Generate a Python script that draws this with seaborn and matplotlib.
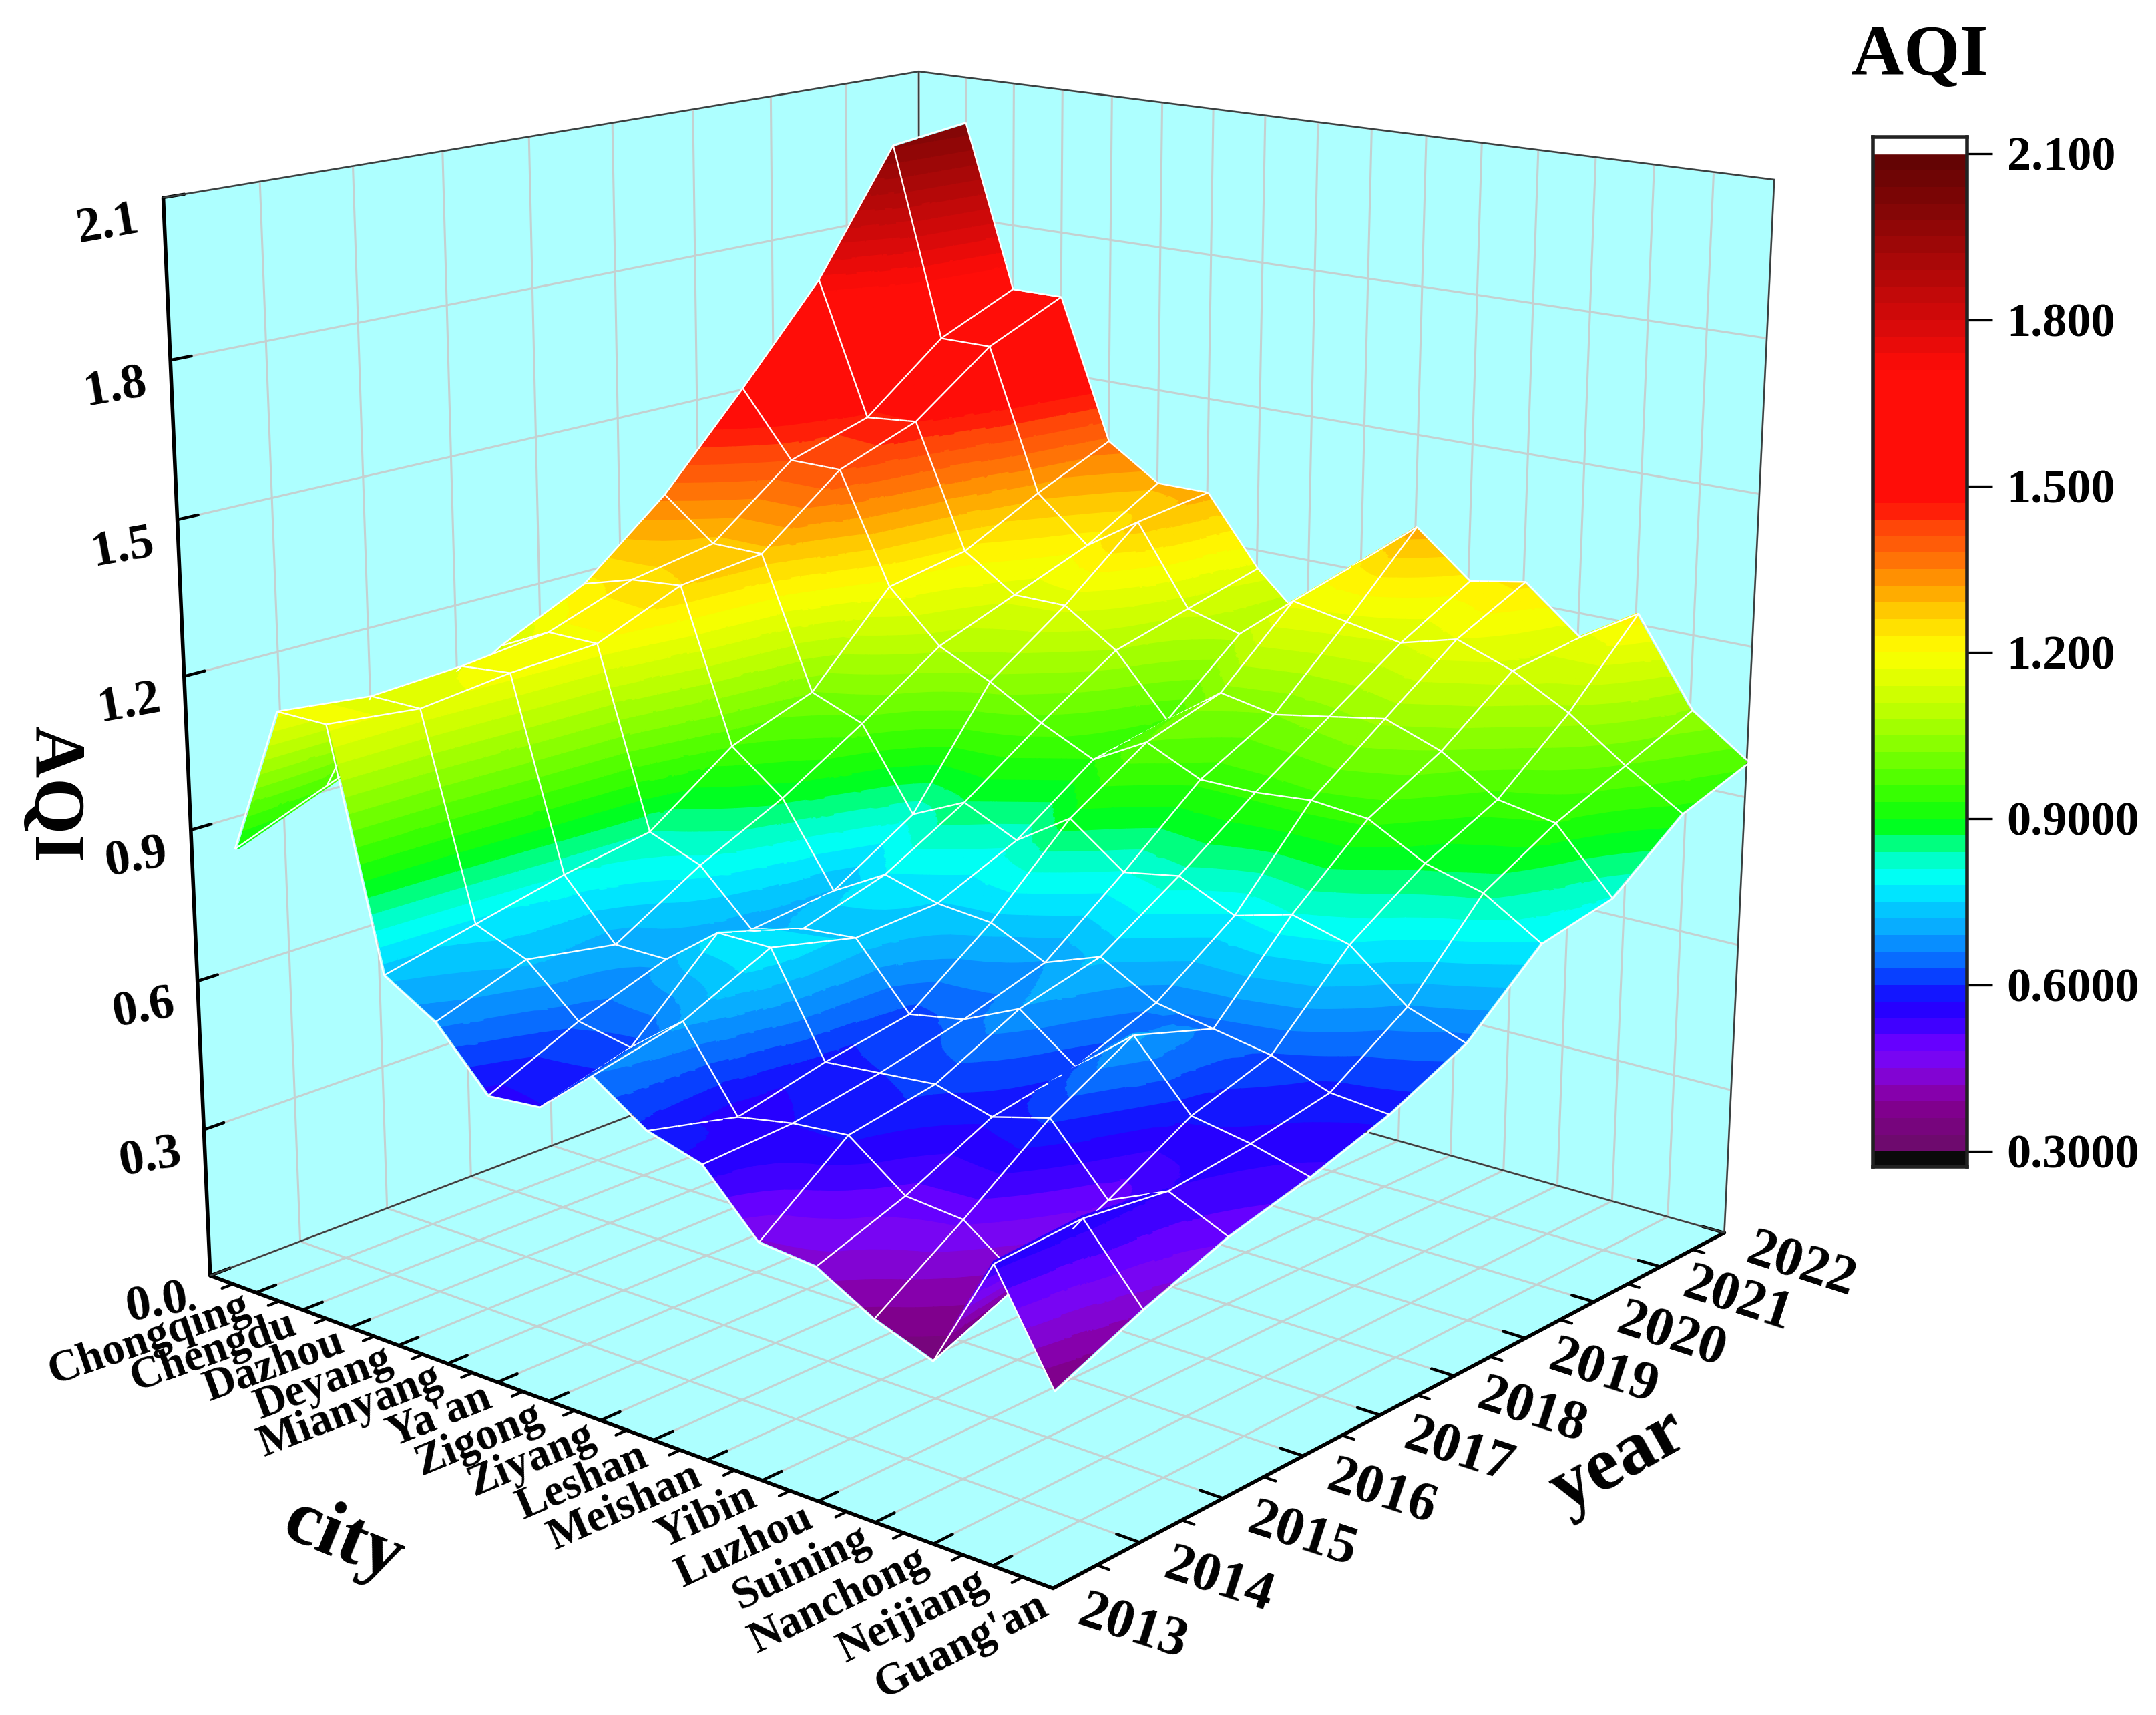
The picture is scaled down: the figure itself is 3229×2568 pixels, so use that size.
import numpy as np
import matplotlib
matplotlib.use('Agg')
import matplotlib.pyplot as plt
import seaborn as sns
from matplotlib.colors import LinearSegmentedColormap, Normalize
from mpl_toolkits.mplot3d.art3d import Poly3DCollection

sns.set_theme(style='white')
plt.rcParams['font.family'] = ['Liberation Serif', 'DejaVu Serif']
plt.rcParams.update({'text.color': 'black', 'axes.labelcolor': 'black', 'xtick.color': 'black', 'ytick.color': 'black'})

cities = ["Chongqing", "Chengdu", "Dazhou", "Deyang", "Mianyang", "Ya'an", "Zigong", "Ziyang",
          "Leshan", "Meishan", "Yibin", "Luzhou", "Suining", "Nanchong", "Neijiang", "Guang'an"]
years = list(range(2013, 2023))

aqi_2013 = [0.89, 1.18, 1.18, 0.73, 0.67, 0.56, 0.57, 0.66, 0.59, 0.56, 0.45, 0.44, 0.38, 0.34, 0.55, 0.36]
aqi_2014 = [0.96, 1.16, 1.16, 0.77, 0.73, 0.64, 0.62, 0.70, 0.55, 0.57, 0.58, 0.50, 0.49, 0.41, 0.56, 0.43]
aqi_2015 = [1.03, 1.17, 1.18, 0.81, 0.70, 0.70, 0.78, 0.78, 0.59, 0.60, 0.61, 0.58, 0.61, 0.49, 0.54, 0.49]
aqi_2016 = [1.14, 1.19, 1.19, 0.84, 0.80, 0.70, 0.73, 0.74, 0.62, 0.64, 0.69, 0.61, 0.70, 0.58, 0.56, 0.53]
aqi_2017 = [1.22, 1.25, 1.26, 0.96, 0.88, 0.72, 0.78, 0.75, 0.74, 0.69, 0.73, 0.67, 0.65, 0.63, 0.59, 0.58]
aqi_2018 = [1.36, 1.28, 1.28, 1.02, 0.98, 0.82, 0.87, 0.82, 0.89, 0.81, 0.83, 0.78, 0.81, 0.78, 0.69, 0.65]
aqi_2019 = [1.54, 1.41, 1.41, 1.19, 1.09, 1.04, 0.98, 0.93, 0.99, 0.94, 0.94, 0.95, 0.94, 0.88, 0.85, 0.78]
aqi_2020 = [1.73, 1.46, 1.47, 1.22, 1.15, 1.15, 1.08, 0.96, 1.04, 1.02, 1.04, 1.06, 1.02, 0.95, 0.93, 0.81]
aqi_2021 = [1.98, 1.59, 1.59, 1.30, 1.21, 1.28, 1.12, 1.09, 1.18, 1.16, 1.14, 1.17, 1.13, 1.07, 0.99, 0.92]
aqi_2022 = [2.00, 1.66, 1.66, 1.37, 1.30, 1.30, 1.16, 1.06, 1.22, 1.31, 1.22, 1.24, 1.15, 1.22, 1.05, 0.97]
Z = np.array([aqi_2013, aqi_2014, aqi_2015, aqi_2016, aqi_2017, aqi_2018, aqi_2019, aqi_2020, aqi_2021, aqi_2022])

anchors = [(0.30, '#6e0a6e'), (0.36, '#80008c'), (0.40, '#8800b4'), (0.44, '#7d08ec'), (0.475, '#7000ff'),
           (0.52, '#3800ff'), (0.555, '#2000ff'), (0.59, '#0828ff'), (0.625, '#0860ff'), (0.66, '#0888ff'),
           (0.70, '#08b0ff'), (0.74, '#00d0ff'), (0.78, '#00ffff'), (0.82, '#00ffc8'), (0.855, '#00ff70'),
           (0.885, '#00ff10'), (0.95, '#40ff00'), (1.03, '#88ff00'), (1.10, '#c0ff00'), (1.20, '#ffff00'),
           (1.26, '#ffd800'), (1.32, '#ffa000'), (1.38, '#ff6808'), (1.44, '#ff4008'), (1.47, '#ff0d08'),
           (1.72, '#ff0d08'), (1.80, '#d80a0a'), (1.90, '#b00808'), (2.00, '#880606'), (2.10, '#640404')]

FW, FH = 3230, 2568
XMIN, XMAX, YMIN, YMAX, ZMIN, ZMAX = 0, 16, 2013, 2022, 0, 2.1
ELEV, AZIM, ROLL, FOCAL = 15.9861, -49.8311, -0.1464, 0.4881
ASPECT = (1, 0.9946, 0.9970)

fig = plt.figure(figsize=(FW / 100, FH / 100), dpi=100)
ax = fig.add_subplot(projection='3d')
ax.set_xlim(XMIN, XMAX); ax.set_ylim(YMIN, YMAX); ax.set_zlim(ZMIN, ZMAX)
ax.view_init(elev=ELEV, azim=AZIM, roll=ROLL)
ax.set_proj_type('persp', focal_length=FOCAL)
ax.set_box_aspect(ASPECT, zoom=1)
ax.set_position([0.0101, 0.0123, 0.8632, 1.0857])

VMIN, VMAX = 0.3, 2.1
NB = 60
cmap = LinearSegmentedColormap.from_list('aqi', [((v - VMIN) / (VMAX - VMIN), c) for v, c in anchors], N=NB)
norm = Normalize(VMIN, VMAX)
edges = np.linspace(VMIN, VMAX, NB + 1)
band_colors = cmap(norm((edges[:-1] + edges[1:]) / 2))

# surface: cells subdivided for shading, cut exactly along the colour bands
SUB = 6
xf = np.linspace(1, 16, 15 * SUB + 1)
yf = np.linspace(2013, 2022, 9 * SUB + 1)
ix, iy = xf - 1, yf - 2013
i0 = np.minimum(ix.astype(int), 14); j0 = np.minimum(iy.astype(int), 8)
fx, fy = ix - i0, iy - j0
Zf = np.zeros((len(yf), len(xf)))
for r, (jj, t) in enumerate(zip(j0, fy)):
    a0 = Z[jj, i0] * (1 - fx) + Z[jj, i0 + 1] * fx
    a1 = Z[jj + 1, i0] * (1 - fx) + Z[jj + 1, i0 + 1] * fx
    Zf[r] = a0 * (1 - t) + a1 * t
XX, YY = np.meshgrid(xf, yf)
P = np.stack([XX, YY, Zf], axis=-1)


def clip(poly, lev, keep_above):
    out = []
    n = len(poly)
    for k in range(n):
        a, b = poly[k], poly[(k + 1) % n]
        ina = (a[2] >= lev) if keep_above else (a[2] <= lev)
        inb = (b[2] >= lev) if keep_above else (b[2] <= lev)
        if ina:
            out.append(a)
        if ina != inb:
            t = (lev - a[2]) / (b[2] - a[2])
            out.append(a + t * (b - a))
    return out


polys, colors = [], []
def add_tri(tri):
    zs = [p[2] for p in tri]
    b0 = int(np.clip(np.searchsorted(edges, min(zs), side='right') - 1, 0, NB - 1))
    b1 = int(np.clip(np.searchsorted(edges, max(zs), side='right') - 1, 0, NB - 1))
    for b in range(b0, b1 + 1):
        pg = list(tri)
        if b1 > b0:
            if b > b0:
                pg = clip(pg, edges[b], True)
            if b < b1 and pg:
                pg = clip(pg, edges[b + 1], False)
        if len(pg) < 3:
            continue
        pg = pg + [pg[-1]] * (5 - len(pg))
        polys.append(np.array(pg[:5]))
        colors.append(band_colors[b])


for r in range(P.shape[0] - 1):
    for c in range(P.shape[1] - 1):
        add_tri([P[r, c], P[r, c + 1], P[r + 1, c + 1]])
        add_tri([P[r, c], P[r + 1, c + 1], P[r + 1, c]])

e_, a_ = np.radians(ELEV), np.radians(AZIM)
d = np.array([np.cos(e_) * np.cos(a_), np.cos(e_) * np.sin(a_), np.sin(e_)]) \
    * np.array([16, 9, 2.1]) / np.array(ax._box_aspect) * 0.02
white = np.array([1, 1, 1, 1.0])
for j in range(10):
    row = P[j * SUB]
    for k in range(len(row) - 1):
        p, q = row[k] + d, row[k + 1] + d
        polys.append(np.array([p, q, q, q, p])); colors.append(white)
for i in range(16):
    col = P[:, i * SUB]
    for k in range(len(col) - 1):
        p, q = col[k] + d, col[k + 1] + d
        polys.append(np.array([p, q, q, q, p])); colors.append(white)
colors = np.array(colors)
surf = Poly3DCollection(polys, facecolors=colors, edgecolors=colors, linewidths=1.7)
ax.add_collection3d(surf)
ax.set_xlim(XMIN, XMAX); ax.set_ylim(YMIN, YMAX); ax.set_zlim(ZMIN, ZMAX)

# walls, grid, ticks
PANE = '#ADFFFF'
for a in (ax.xaxis, ax.yaxis, ax.zaxis):
    a.set_pane_color(PANE)
    a.pane.set_edgecolor(PANE)
    a._axinfo['grid'].update(color='#c4d0d0', linewidth=2.2, linestyle='-')
    a._axinfo['tick'].update(inward_factor=0.0, outward_factor=0.3, linewidth={True: 3.2, False: 3})
    a.line.set_linewidth(4); a.line.set_color('black')
ax.grid(True)
for ed in [((XMIN, XMIN), (YMIN, YMAX), (ZMAX, ZMAX)), ((XMIN, XMAX), (YMAX, YMAX), (ZMAX, ZMAX)),
           ((XMAX, XMAX), (YMAX, YMAX), (ZMIN, ZMAX)), ((XMIN, XMIN), (YMAX, YMAX), (ZMIN, ZMAX)),
           ((XMIN, XMIN), (YMIN, YMAX), (ZMIN, ZMIN)), ((XMIN, XMAX), (YMAX, YMAX), (ZMIN, ZMIN))]:
    ax.plot(*ed, color='#3a4040', lw=1.8, zorder=1)
for x in np.arange(0.5, 16, 1):
    ax.plot([x, x], [YMIN, YMIN - 0.12], [ZMIN, ZMIN], color='black', lw=3, zorder=1)
for y in np.arange(2013.5, 2022, 1):
    ax.plot([XMAX, XMAX + 0.2], [y, y], [ZMIN, ZMIN], color='black', lw=3, zorder=1)
ax.set_xlim(XMIN, XMAX); ax.set_ylim(YMIN, YMAX); ax.set_zlim(ZMIN, ZMAX)

ax.set_xticks(np.arange(0, 17))
ax.set_xticklabels([''] + cities, ha='right', va='center', rotation_mode='anchor', fontsize=48, fontweight='bold')
for k, t in enumerate(ax.xaxis.get_majorticklabels()):
    t.set_rotation(19 + 8 * max(k - 1, 0) / 15)
ax.set_yticks(years)
ax.set_yticklabels([str(y) for y in years], ha='left', va='baseline', rotation_mode='anchor', rotation=-18, fontsize=60, fontweight='bold')
zt = np.arange(0, 2.11, 0.3)
ax.set_zticks(zt)
ax.set_zticklabels([f'{v:.1f}' for v in zt], rotation=10, ha='right', va='top', rotation_mode='anchor', fontsize=54, fontweight='bold')
ax.zaxis.set_ticks_position('lower'); ax.zaxis.set_label_position('lower')
ax.tick_params(axis='x', pad=2, labelcolor='black')
ax.tick_params(axis='y', pad=16, labelcolor='black')
ax.tick_params(axis='z', pad=10, labelcolor='black')


def pin(axis, text, cx, cy, rot, size):
    axis.set_rotate_label(False)
    axis._axinfo['label'].update(va='center', ha='center', rotation_mode='anchor')
    lab = axis.label
    lab.set_text(text); lab.set_fontsize(size); lab.set_fontweight('bold'); lab.set_rotation(rot); lab.set_color('black')
    ax.apply_aspect()
    lab.set_position(tuple(ax.transData.inverted().transform((cx, FH - cy))))
    lab.set_position = lambda *args, **kw: None


pin(ax.xaxis, 'city', 514, 2308, -22, 84)
pin(ax.yaxis, 'year', 2425, 2188, 29, 82)
pin(ax.zaxis, 'AQI', 78, 1189, -90, 78)
ax.patch.set_alpha(0)

# colour scale
cax = fig.add_axes([2805 / FW, 1 - 1747 / FH, 141 / FW, (1747 - 205) / FH])
cax.pcolormesh([0, 1], edges, ((edges[:-1] + edges[1:]) / 2)[:, None], cmap=cmap, norm=norm)
cax.axhspan(0.272, VMIN, color='#0a0a0a'); cax.axhspan(VMAX, 2.13, color='white')
cax.set_ylim(0.272, 2.13); cax.set_xlim(0, 1); cax.set_xticks([])
cax.yaxis.tick_right()
cax.set_yticks([0.3, 0.6, 0.9, 1.2, 1.5, 1.8, 2.1])
cax.set_yticklabels(['0.3000', '0.6000', '0.9000', '1.200', '1.500', '1.800', '2.100'], fontsize=52, fontweight='bold', color='black')
cax.tick_params(axis='y', length=27, width=2.4, pad=16, color='black', right=True)
for sp in cax.spines.values():
    sp.set_linewidth(4); sp.set_color('#222222')
fig.text(2875 / FW, 1 - 112 / FH, 'AQI', fontsize=78, fontweight='bold', ha='center', va='baseline', color='black')
fig.savefig('out.png', dpi=100)
